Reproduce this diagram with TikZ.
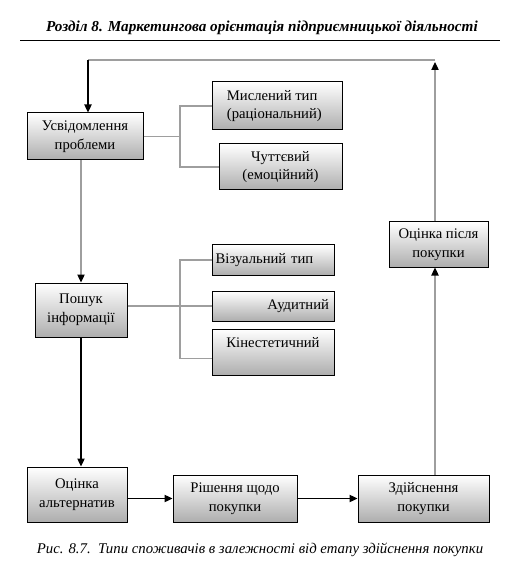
\documentclass[tikz,border=0pt]{standalone}
\usepackage{fontspec}
\setmainfont{LiberationSerif}[
  Extension=.ttf,
  UprightFont=*-Regular,
  BoldFont=*-Bold,
  ItalicFont=*-Italic,
  BoldItalicFont=*-BoldItalic]
\usepackage{xcolor}
\usetikzlibrary{positioning, arrows.meta, calc}
\definecolor{linegray}{gray}{0.62}
\tikzset{
  stagebox/.style={
    rectangle,
    draw=black,
    line width=0.75pt,
    top color=white,
    bottom color=black!32,
    align=center,
    font=\rmfamily\fontsize{11}{14}\selectfont,
    inner sep=2pt
  },
  typebox/.style={
    stagebox,
    minimum width=91.5pt,
    minimum height=22.5pt
  },
  flowarrow/.style={
    line width=0.9pt,
    -{Triangle[length=6pt,width=5.5pt,color=black]}
  },
  grayarrow/.style={
    flowarrow,
    draw=linegray
  },
  branchline/.style={
    draw=linegray,
    line width=0.9pt
  }
}

\begin{document}
\begin{tikzpicture}[x=0.75pt,y=-0.75pt]
  \useasboundingbox (0,0) rectangle (514,584);
  % page header
  \node[font=\rmfamily\fontsize{11.4}{13}\selectfont\bfseries\itshape] (head) at (262,28)
    {Розділ 8. Маркетингова орієнтація підприємницької діяльності};
  \draw[line width=0.75pt] (20,41) -- (500,41);

  % stages
  \node[stagebox, minimum width=87pt, minimum height=35.25pt] (aware) at (85,136.5)
    {Усвідомлення\\проблеми};
  \node[stagebox, minimum width=69pt, minimum height=40.5pt] (search) at (81,310)
    {Пошук\\інформації};
  \node[stagebox, minimum width=75pt, minimum height=41.25pt] (evaluate) at (77,494.5)
    {Оцінка\\альтернатив};
  \node[stagebox, minimum width=93pt, minimum height=35.25pt] (decide) at (235,498.5)
    {Рішення щодо\\покупки};
  \node[stagebox, minimum width=98.25pt, minimum height=35.25pt] (purchase) at (423.5,498.5)
    {Здійснення\\покупки};
  \node[stagebox, minimum width=74.25pt, minimum height=33.75pt] (after) at (438.5,244.5)
    {Оцінка після\\покупки};

  % consumer types
  \node[stagebox, minimum width=97.5pt, minimum height=36pt, align=left] (think) at (277,106)
    {Мислений тип\\(раціональний)\hspace*{4pt}};
  \node[stagebox, minimum width=92.25pt, minimum height=34.5pt] (feel) at (280.5,167)
    {Чуттєвий\\(емоційний)};
  \node[typebox, text width=86pt, align=left] (visual) at (273,260) {Візуальний тип};
  \node[typebox, text width=84pt, align=right] (audit) at (273,306) {Аудитний};
  \node[typebox, minimum height=34.5pt] (kinest) at (273,352) {Кінестетичний\\[1pt]~};

  \coordinate (loopR) at (435,60);
  \coordinate (loopL) at (88,60);
  \coordinate (hubA) at (180,136.5);
  \coordinate (hubB) at (180,306);

  % branches
  \draw[branchline] (aware.east) -- (hubA);
  \draw[branchline] (think.west) -| (hubA) |- (feel.west);
  \draw[branchline] (search.east |- audit.west) -- (audit.west);
  \draw[branchline] (visual.west) -| (hubB) |- ([yshift=-5pt]kinest.west);

  % main flow
  \draw[grayarrow] (search.north |- aware.south) -- (search.north);
  \draw[flowarrow] (search.south) -- (evaluate.north -| search.south);
  \draw[flowarrow] (evaluate.east |- decide.west) -- (decide.west);
  \draw[flowarrow] (decide.east) -- (purchase.west);
  \draw[grayarrow] (purchase.north -| loopR) -- (after.south -| loopR);
  \draw[grayarrow] (after.north -| loopR) -- ([yshift=-1.5pt]loopR);
  \draw[branchline] (loopR) -- (loopL);
  \draw[flowarrow] (loopL) -- (aware.north -| loopL);

  % caption
  \node[font=\rmfamily\fontsize{11.1}{13}\selectfont\itshape] (caption) at (260,550)
    {Рис. 8.7.\ \ Типи споживачів в залежності від етапу здійснення покупки};
\end{tikzpicture}
\end{document}
